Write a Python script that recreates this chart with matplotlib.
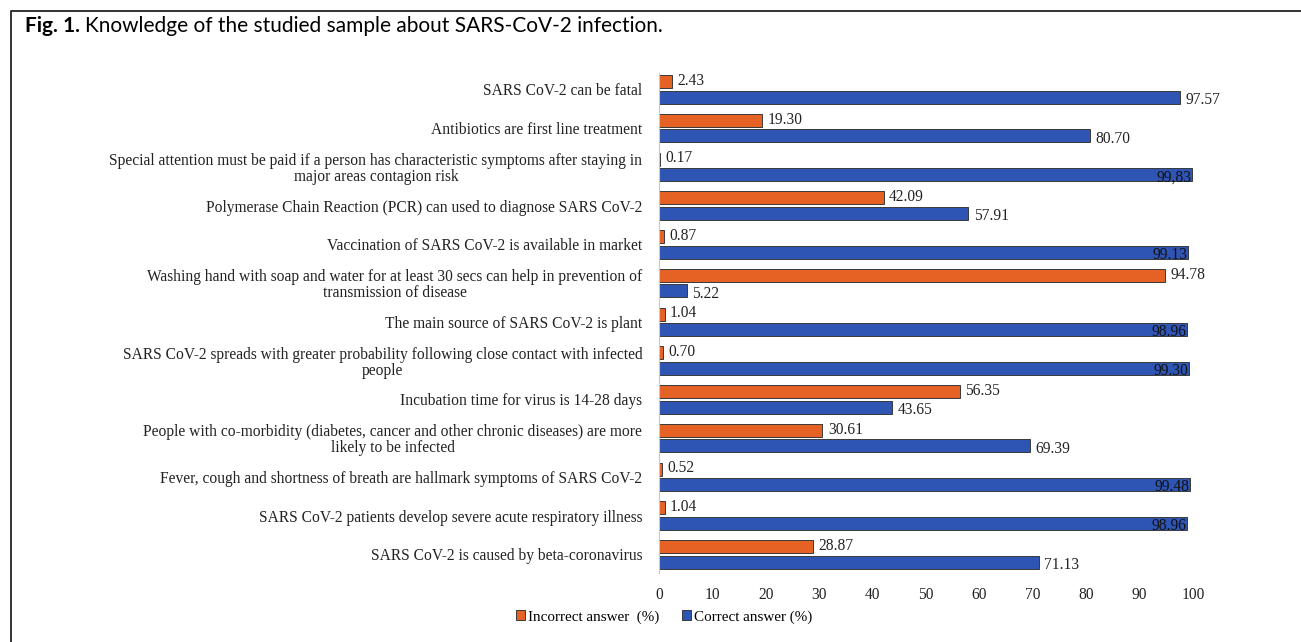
import numpy as np
import matplotlib
matplotlib.use('Agg')
import matplotlib.pyplot as plt
from matplotlib.lines import Line2D

# statements, top to bottom as shown
statements = [
    'SARS CoV-2 can be fatal',
    'Antibiotics are first line treatment',
    'Special attention must be paid if a person has characteristic symptoms after staying in\nmajor areas contagion risk',
    'Polymerase Chain Reaction (PCR) can used to diagnose SARS CoV-2',
    'Vaccination of SARS CoV-2 is available in market',
    'Washing hand with soap and water for at least 30 secs can help in prevention of\ntransmission of disease',
    'The main source of SARS CoV-2 is plant',
    'SARS CoV-2 spreads with greater probability following close contact with infected\npeople',
    'Incubation time for virus is 14-28 days',
    'People with co-morbidity (diabetes, cancer and other chronic diseases) are more\nlikely to be infected',
    'Fever, cough and shortness of breath are hallmark symptoms of SARS CoV-2',
    'SARS CoV-2 patients develop severe acute respiratory illness',
    'SARS CoV-2 is caused by beta-coronavirus',
]
incorrect = [2.43, 19.30, 0.17, 42.09, 0.87, 94.78, 1.04, 0.70, 56.35, 30.61, 0.52, 1.04, 28.87]
correct = [97.57, 80.70, 99.83, 57.91, 99.13, 5.22, 98.96, 99.30, 43.65, 69.39, 99.48, 98.96, 71.13]
correct_text = ['97.57', '80.70', '99,83', '57.91', '99.13', '5.22', '98.96', '99.30',
                '43.65', '69.39', '99.48', '98.96', '71.13']

orange = '#E66124'
blue = '#2E54B4'
serif = 'Liberation Serif'
fs = 11.2

fig = plt.figure(figsize=(13.01, 6.42), dpi=100)
ax = fig.add_axes([659/1301, 1-573/642, (1193-659)/1301, 500/642])

y = np.arange(len(statements))
h = 0.335
ax.barh(y - 0.2, incorrect, height=h, color=orange, edgecolor='#3a3a3a', linewidth=0.7, label='Incorrect answer  (%)')
ax.barh(y + 0.2, correct, height=h, color=blue, edgecolor='#3a3a3a', linewidth=0.7, label='Correct answer (%)')

for i in range(len(statements)):
    ax.text(incorrect[i] + 1.0, y[i] - 0.22, '%.2f' % incorrect[i], ha='left', va='center',
            fontsize=fs, family=serif, color='#222222')
    if correct[i] > 98.5:
        ax.text(correct[i] - 0.1, y[i] + 0.27, correct_text[i], ha='right', va='center',
                fontsize=fs, family=serif, color='#111111')
    else:
        ax.text(correct[i] + 1.0, y[i] + 0.27, correct_text[i], ha='left', va='center',
                fontsize=fs, family=serif, color='#222222')

ax.set_xlim(0, 100)
ax.set_ylim(12.48, -0.42)
ax.set_xticks(np.arange(0, 101, 10))
ax.set_yticks(y)
ax.set_yticklabels(statements, multialignment='center', linespacing=1.0)
for lab in ax.get_yticklabels() + ax.get_xticklabels():
    lab.set_family(serif)
    lab.set_fontsize(fs)
    lab.set_color('#222222')
ax.tick_params(axis='y', length=0, pad=12)
ax.tick_params(axis='x', length=0, pad=10)
for s in ['top', 'right', 'bottom']:
    ax.spines[s].set_visible(False)
ax.spines['left'].set_color('#c8c8c8')

fig.legend(loc='center', bbox_to_anchor=(664/1301, 1-617/642), ncol=2, frameon=False,
           prop={'family': serif, 'size': 10.9}, handlelength=0.6, handleheight=0.6,
           handletextpad=0.2, columnspacing=1.5)

# title and frame
fig.text(25/1301, 1-26/642, 'Fig. 1.', fontsize=15, family='Lato', weight='bold', va='center', ha='left')
fig.text(85/1301, 1-26/642, 'Knowledge of the studied sample about SARS-CoV-2 infection.', fontsize=15,
         family='Lato', va='center', ha='left')
fig.add_artist(Line2D([10.5/1301, 10.5/1301, 1], [0, 1-11/642, 1-11/642], color='#222222', lw=1.3))

fig.savefig('out.png', dpi=100)
